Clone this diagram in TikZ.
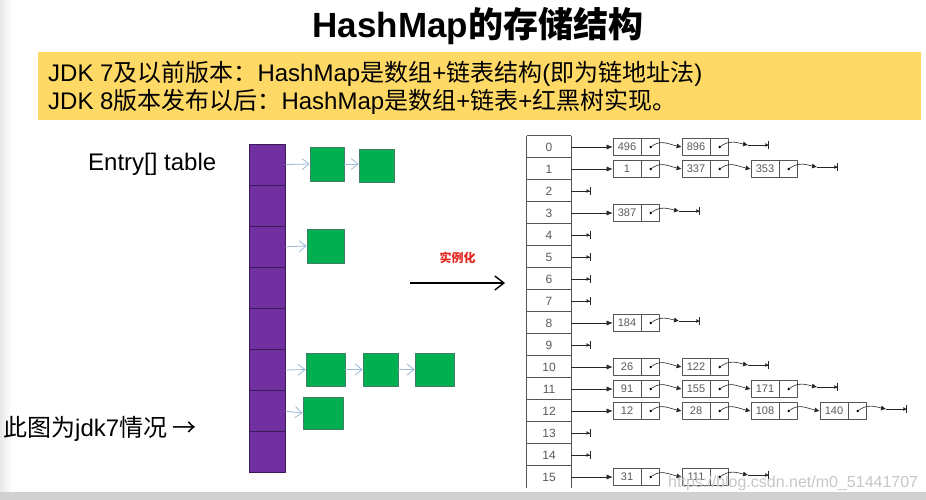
\documentclass[tikz,border=0pt]{standalone}
\usepackage{fontspec}
\setmainfont{Liberation Sans}
\newfontfamily\zhfont{Noto Sans CJK SC}
\usetikzlibrary{arrows.meta,positioning}
\newcommand\zh[1]{{\zhfont #1}}
\definecolor{notebg}{HTML}{FFD966}
\definecolor{slotpurple}{HTML}{7030A0}
\definecolor{slotline}{HTML}{3C1B5A}
\definecolor{entrygreen}{HTML}{00B050}
\definecolor{entryline}{HTML}{3F7F66}
\definecolor{hopblue}{HTML}{9DB9D5}
\definecolor{numgray}{HTML}{5A5A5A}
\definecolor{boxline}{HTML}{555555}
\definecolor{redlabel}{HTML}{E3261E}

\begin{document}
\begin{tikzpicture}[x=1pt, y=-1pt, line join=round,
  slot/.style={draw=slotline, fill=slotpurple, line width=0.8pt, minimum width=36pt, minimum height=41.1pt, inner sep=0pt},
  entry/.style={draw=entryline, fill=entrygreen, line width=0.6pt, inner sep=0pt},
  hop/.style={draw=hopblue, line width=0.8pt, -{Straight Barb[length=7pt,width=11pt]}},
  cell/.style={minimum width=44pt, minimum height=22pt, inner sep=0pt, text=numgray, font=\fontsize{12}{12}\selectfont},
  gridline/.style={draw=boxline, line width=0.9pt},
  keybox/.style={draw=boxline, line width=0.7pt, minimum width=28pt, minimum height=17pt, inner sep=0pt, text=numgray, font=\fontsize{11}{11}\selectfont},
  ptrbox/.style={keybox, minimum width=18pt},
  link/.style={draw=black!85, line width=0.6pt, -{Latex[length=5pt,width=5pt]}},
  nil/.style={draw=black!85, line width=0.6pt, -{Latex[length=3pt,width=4pt] Bar[width=8pt]}},
]
\useasboundingbox (0,0) rectangle (926,500);
\fill[white] (0,0) rectangle (926,500);
\shade[left color=black!9, right color=white] (0,0) rectangle (12,492);

% title and note
\node[anchor=base, font=\fontsize{35}{35}\selectfont\bfseries] (title) at (478,38) {HashMap\zh{的存储结构}};
\node[fill=notebg, anchor=north west, minimum width=883pt, minimum height=68pt, inner sep=0pt] (note) at (38,52) {};
\node[anchor=base west, inner sep=0pt, font=\fontsize{24}{24}\selectfont] (line7) at (48,82)
  {JDK 7\zh{及以前版本：}HashMap\zh{是数组}+\zh{链表结构}(\zh{即为链地址法})};
\node[anchor=base west, inner sep=0pt, font=\fontsize{24}{24}\selectfont] (line8) at (48,110)
  {JDK 8\zh{版本发布以后：}HashMap\zh{是数组}+\zh{链表}+\zh{红黑树实现。}};

% jdk7 picture
\node[anchor=base west, inner sep=0pt, font=\fontsize{24}{24}\selectfont] (tabname) at (88,170) {Entry[] table};
\node[anchor=base west, inner sep=0pt, font=\fontsize{24}{24}\selectfont] (jdk7) at (3,436) {\zh{此图为}jdk7\zh{情况 →}};
\foreach \i in {0,...,7}
  \node[slot] (e\i) at (267,164.55+41.1*\i) {};
\node[entry, minimum width=34pt, minimum height=34pt] (g0a) at (327,164) {};
\node[entry, minimum width=35pt, minimum height=33pt] (g0b) at (376.5,165.5) {};
\node[entry, minimum width=37pt, minimum height=34pt] (g2a) at (325.5,246) {};
\node[entry, minimum width=39pt, minimum height=33pt] (g5a) at (325.5,369.5) {};
\node[entry, minimum width=35pt, minimum height=33pt] (g5b) at (380.5,369.5) {};
\node[entry, minimum width=39pt, minimum height=33pt] (g5c) at (434.5,369.5) {};
\node[entry, minimum width=40pt, minimum height=32pt] (g6a) at (323,413) {};
\draw[hop] (e0.east) -- (g0a.west);
\draw[hop] (g0a.east) -- (g0a.east -| g0b.west);
\draw[hop] (e2.east) -- (g2a.west);
\draw[hop] (e5.east) -- (g5a.west);
\draw[hop] (g5a.east) -- (g5b.west);
\draw[hop] (g5b.east) -- (g5c.west);
\draw[hop] (e6.east) -- (g6a.west);

% instantiation arrow
\coordinate (instfrom) at (410,283);
\coordinate (instto) at (505,283);
\draw[line width=1.4pt, -{Straight Barb[length=9pt,width=14pt]}] (instfrom) -- (instto)
  node[midway, above=15pt, text=redlabel, font=\fontsize{12}{12}\selectfont\bfseries] (inst) {\zh{实例化}};

% bucket table
\foreach \r in {0,...,15}
  \node[cell] (c\r) at (549,147+22*\r) {\r};
\draw[gridline] (c0.north west) -- (c15.south west);
\draw[gridline] (c0.north east) -- (c15.south east);
\foreach \r in {1,...,15}
  \draw[gridline] (c\r.north west) -- (c\r.north east);
\draw[gridline] (c0.north west) -- (c0.north east);

% chains
\foreach \r/\n/\keys in {0/2/{496,896}, 1/3/{1,337,353}, 3/1/{387}, 8/1/{184},
    10/2/{26,122}, 11/3/{91,155,171}, 12/4/{12,28,108,140}, 15/2/{31,111}} {
  \foreach \k [count=\c, remember=\c as \pc (initially 0)] in \keys {
    \node[keybox] (k\r-\c) at (558+69*\c,147+22*\r) {\k};
    \node[ptrbox, right=0pt of k\r-\c] (p\r-\c) {};
    \ifnum\c>1
      \draw[link] (p\r-\pc.center) .. controls +(10,-8) and +(-14,-3) .. (k\r-\c.west);
    \fi
    \fill (p\r-\c.center) circle (1.4pt);
  }
  \draw[link, -{Latex[length=6pt,width=5pt]}] (c\r.east) -- (k\r-1.west);
  \coordinate (t\r) at ([xshift=19pt, yshift=2pt]p\r-\n.east);
  \coordinate (u\r) at ([xshift=21pt]t\r);
  \draw[link] (p\r-\n.center) .. controls +(10,-8) and +(-10,-2) .. (t\r);
  \draw[nil] (t\r) -- (u\r);
}
\foreach \r in {2,4,5,6,7,9,13,14} {
  \coordinate (z\r) at ([xshift=19pt]c\r.east);
  \draw[nil] (c\r.east) -- (z\r);
}

% watermark and bottom strip
\node[anchor=base west, inner sep=0pt, text=black!22, font=\fontsize{16}{16}\selectfont] (mark) at (668,487) {https://blog.csdn.net/m0\_51441707};
\fill[black!18] (0,492) rectangle (926,500);
\end{tikzpicture}
\end{document}
